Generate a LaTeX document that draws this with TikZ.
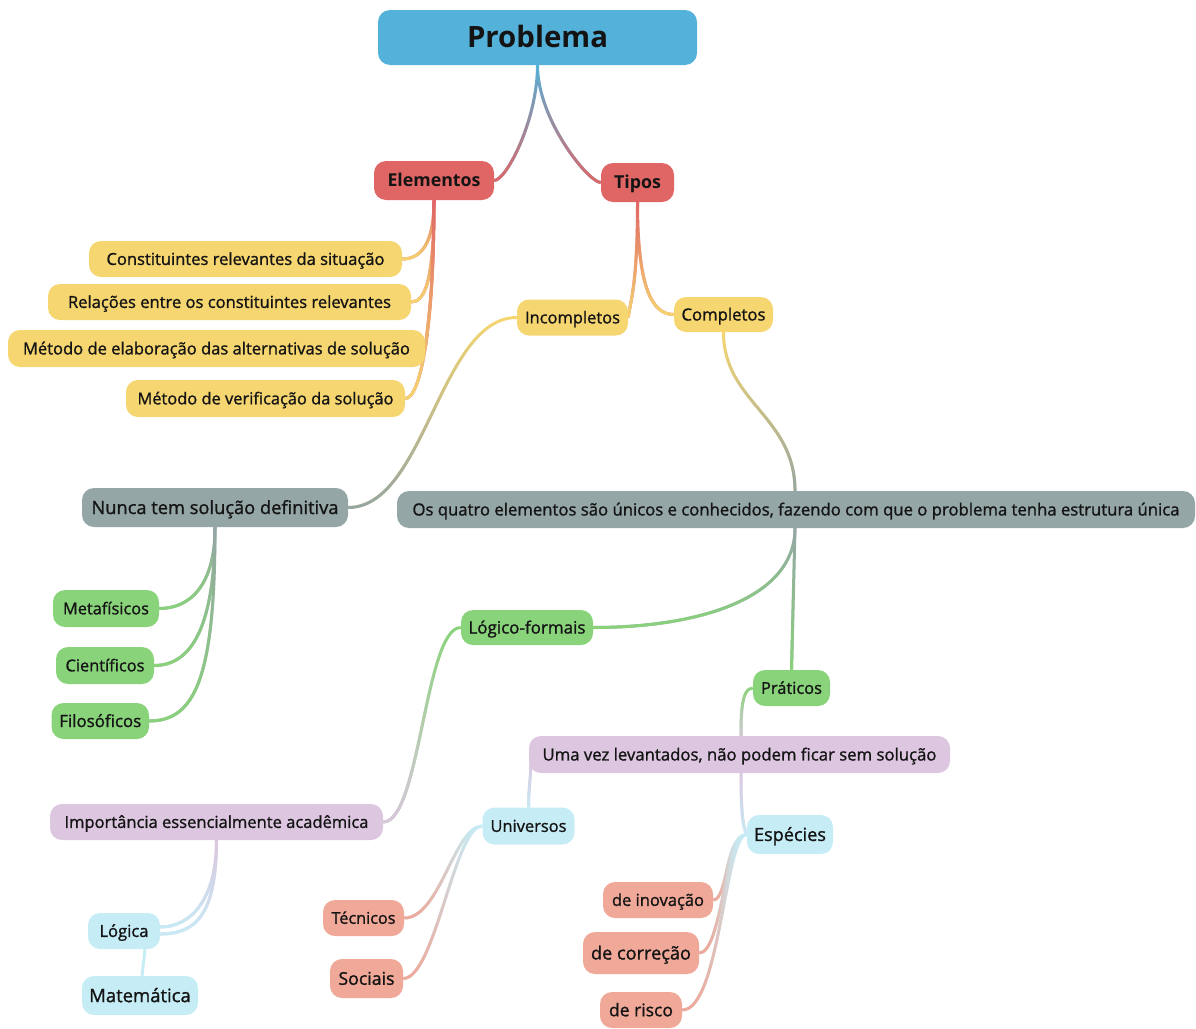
\documentclass[tikz,border=0pt]{standalone}
\usepackage{fontspec}
\setmainfont{Open Sans}
\newfontfamily\medfont{Open Sans}[FakeBold=1.2]
\usetikzlibrary{fadings,backgrounds}
\tikzfading[name=fadetop, top color=transparent!100, bottom color=transparent!0]
\definecolor{cblue}{RGB}{84,178,218}
\definecolor{cred}{RGB}{224,102,102}
\definecolor{cyel}{RGB}{246,214,112}
\definecolor{cgray}{RGB}{149,166,166}
\definecolor{cgreen}{RGB}{137,211,122}
\definecolor{clil}{RGB}{220,198,224}
\definecolor{clb}{RGB}{198,236,246}
\definecolor{csal}{RGB}{240,168,153}
\definecolor{txt}{RGB}{20,20,20}
\newcommand\fitto[2]{%
 \setbox0=\hbox{\fontsize{10pt}{12pt}\selectfont #2}%
 \pgfmathsetmacro\fitfs{10*#1/\the\wd0}%
 \fontsize{\fitfs pt}{\fitfs pt}\selectfont\vphantom{H}\smash{#2}}
\tikzset{
 box/.style={rounded corners=12pt, inner sep=0pt, text=txt, font=\medfont},
 bbox/.style={rounded corners=12pt, inner sep=0pt, text=txt, font=\bfseries},
 link/.style 2 args={line width=3pt, draw=#1, postaction={draw=#2, line width=3pt, path fading=fadetop}},
}
\begin{document}
\begin{tikzpicture}[x=1pt,y=-1pt]
\useasboundingbox (0,0) rectangle (1196,1028);
% nodes
\node[bbox, fill=cblue, minimum width=319pt, minimum height=55pt] (P) at (537.5,37.5) {\fitto{141}{Problema}};
\node[bbox, fill=cred, minimum width=120pt, minimum height=39pt] (E) at (434,180.5) {\fitto{93}{Elementos}};
\node[bbox, fill=cred, minimum width=73pt, minimum height=39pt] (T) at (637.5,182.5) {\fitto{47}{Tipos}};
\node[box, fill=cyel, minimum width=313pt, minimum height=36pt] (c1) at (245.5,259) {\fitto{278}{Constituintes relevantes da situação}};
\node[box, fill=cyel, minimum width=363pt, minimum height=36pt] (c2) at (229.5,302) {\fitto{323}{Relações entre os constituintes relevantes}};
\node[box, fill=cyel, minimum width=417pt, minimum height=37pt] (c3) at (216.5,348.5) {\fitto{387}{Método de elaboração das alternativas de solução}};
\node[box, fill=cyel, minimum width=279pt, minimum height=37pt] (c4) at (265.5,398.5) {\fitto{256}{Método de verificação da solução}};
\node[box, fill=cyel, minimum width=111pt, minimum height=36pt] (Inc) at (572.5,317.5) {\fitto{95}{Incompletos}};
\node[box, fill=cyel, minimum width=99pt, minimum height=35pt] (Comp) at (723.5,314.5) {\fitto{84}{Completos}};
\node[box, fill=cgray, minimum width=266pt, minimum height=39pt] (N) at (215,507.5) {\fitto{247}{Nunca tem solução definitiva}};
\node[box, fill=cgray, minimum width=798pt, minimum height=37pt] (OQ) at (796,509.5) {\fitto{767}{Os quatro elementos são únicos e conhecidos, fazendo com que o problema tenha estrutura única}};
\node[box, fill=cgreen, minimum width=106pt, minimum height=37pt] (Me) at (106,608.5) {\fitto{86}{Metafísicos}};
\node[box, fill=cgreen, minimum width=98pt, minimum height=37pt] (Ci) at (105,665.5) {\fitto{79}{Científicos}};
\node[box, fill=cgreen, minimum width=97.5pt, minimum height=36pt] (Fi) at (100.25,721) {\fitto{82}{Filosóficos}};
\node[box, fill=cgreen, minimum width=132pt, minimum height=35pt] (LF) at (527,627.5) {\fitto{117}{Lógico-formais}};
\node[box, fill=cgreen, minimum width=77pt, minimum height=36pt] (Pr) at (791.5,688) {\fitto{61}{Práticos}};
\node[box, fill=clil, minimum width=421pt, minimum height=37pt] (U) at (739.5,754.5) {\fitto{394}{Uma vez levantados, não podem ficar sem solução}};
\node[box, fill=clil, minimum width=333pt, minimum height=36pt] (Im) at (216.5,822) {\fitto{304}{Importância essencialmente acadêmica}};
\node[box, fill=clb, minimum width=92pt, minimum height=37pt] (Un) at (528.5,826) {\fitto{76}{Universos}};
\node[box, fill=clb, minimum width=86pt, minimum height=39pt] (Es) at (790,834.5) {\fitto{72}{Espécies}};
\node[box, fill=clb, minimum width=72pt, minimum height=36pt] (Lg) at (124,931) {\fitto{49}{Lógica}};
\node[box, fill=clb, minimum width=116pt, minimum height=39pt] (Ma) at (140,995.5) {\fitto{101.6}{Matemática}};
\node[box, fill=csal, minimum width=81pt, minimum height=36pt] (Te) at (363.5,918) {\fitto{64}{Técnicos}};
\node[box, fill=csal, minimum width=73pt, minimum height=39pt] (So) at (366.5,978.5) {\fitto{56}{Sociais}};
\node[box, fill=csal, minimum width=110pt, minimum height=36pt] (In) at (658,900) {\fitto{92}{de inovação}};
\node[box, fill=csal, minimum width=116pt, minimum height=42pt] (Co) at (641,953) {\fitto{100}{de correção}};
\node[box, fill=csal, minimum width=82pt, minimum height=36pt] (Ri) at (641,1010) {\fitto{64}{de risco}};
\coordinate (oqT) at (795,491);
\coordinate (oqB) at (795,528);
\coordinate (umaT) at (741,737);
\coordinate (umaB) at (741,773);
% connectors
\begin{scope}[on background layer]
\draw[link={cblue}{cred}] (P.south) .. controls +(0,55) and +(12,0) .. (E.east);
\draw[link={cblue}{cred}] (P.south) .. controls +(0,55) and +(-12,0) .. (T.west);
\draw[link={cred}{cyel}] (E.south) .. controls +(0,45) and +(18,0) .. (c1.east);
\draw[link={cred}{cyel}] (E.south) .. controls +(0,80) and +(14,0) .. (c2.east);
\draw[link={cred}{cyel}] (E.south) .. controls +(0,90) and +(2,-20) .. (c3.east);
\draw[link={cred}{cyel}] (E.south) .. controls +(0,130) and +(15,0) .. (c4.east);
\draw[link={cred}{cyel}] (T.south) .. controls +(0,80) and +(3,-20) .. (Inc.east);
\draw[link={cred}{cyel}] (T.south) .. controls +(0,85) and +(-22,0) .. (Comp.west);
\draw[link={cyel}{cgray}] (Comp.south) .. controls +(0,70) and +(0,-75) .. (oqT);
\draw[link={cyel}{cgray}] (Inc.west) .. controls +(-77,0) and +(77,0) .. (N.east);
\draw[link={cgray}{cgreen}] (N.south) .. controls +(0,58) and +(31,0) .. (Me.east);
\draw[link={cgray}{cgreen}] (N.south) .. controls +(0,100) and +(37,0) .. (Ci.east);
\draw[link={cgray}{cgreen}] (N.south) .. controls +(0,150) and +(46,0) .. (Fi.east);
\draw[link={cgray}{cgreen}] (oqB) .. controls +(0,70) and +(107,0) .. (LF.east);
\draw[link={cgray}{cgreen}] (oqB) -- (Pr.north);
\draw[link={cgreen}{clil}] (LF.west) .. controls +(-36,0) and +(37,0) .. (Im.east);
\draw[link={cgreen}{clil}] (Pr.west) .. controls +(-12,0) and +(0,-20) .. (umaT);
\draw[link={clil}{clb}] (umaB) .. controls +(0,40) and +(-4,-8) .. (Es.west);
\draw[link={clil}{clb}] ([xshift=2pt,yshift=-6pt]U.west) .. controls +(0,20) and +(0,-20) .. (Un.north);
\draw[link={clil}{clb}] (Im.south) .. controls +(0,60) and +(30,0) .. ([yshift=4pt]Lg.east);
\draw[link={clil}{clb}] (Im.south) .. controls +(0,75) and +(35,0) .. ([yshift=-3pt]Lg.east);
\draw[line width=3pt, draw=clb] ([xshift=21pt]Lg.south) -- ([xshift=2pt]Ma.north);
\draw[link={clb}{csal}] (Un.west) .. controls +(-28,0) and +(36,0) .. (Te.east);
\draw[link={clb}{csal}] (Un.west) .. controls +(-28,0) and +(32,0) .. (So.east);
\draw[link={clb}{csal}] (Es.west) .. controls +(-22,0) and +(15,0) .. (In.east);
\draw[link={clb}{csal}] (Es.west) .. controls +(-22,0) and +(23,0) .. (Co.east);
\draw[link={clb}{csal}] (Es.west) .. controls +(-22,0) and +(38,0) .. (Ri.east);
\end{scope}
\end{tikzpicture}
\end{document}
